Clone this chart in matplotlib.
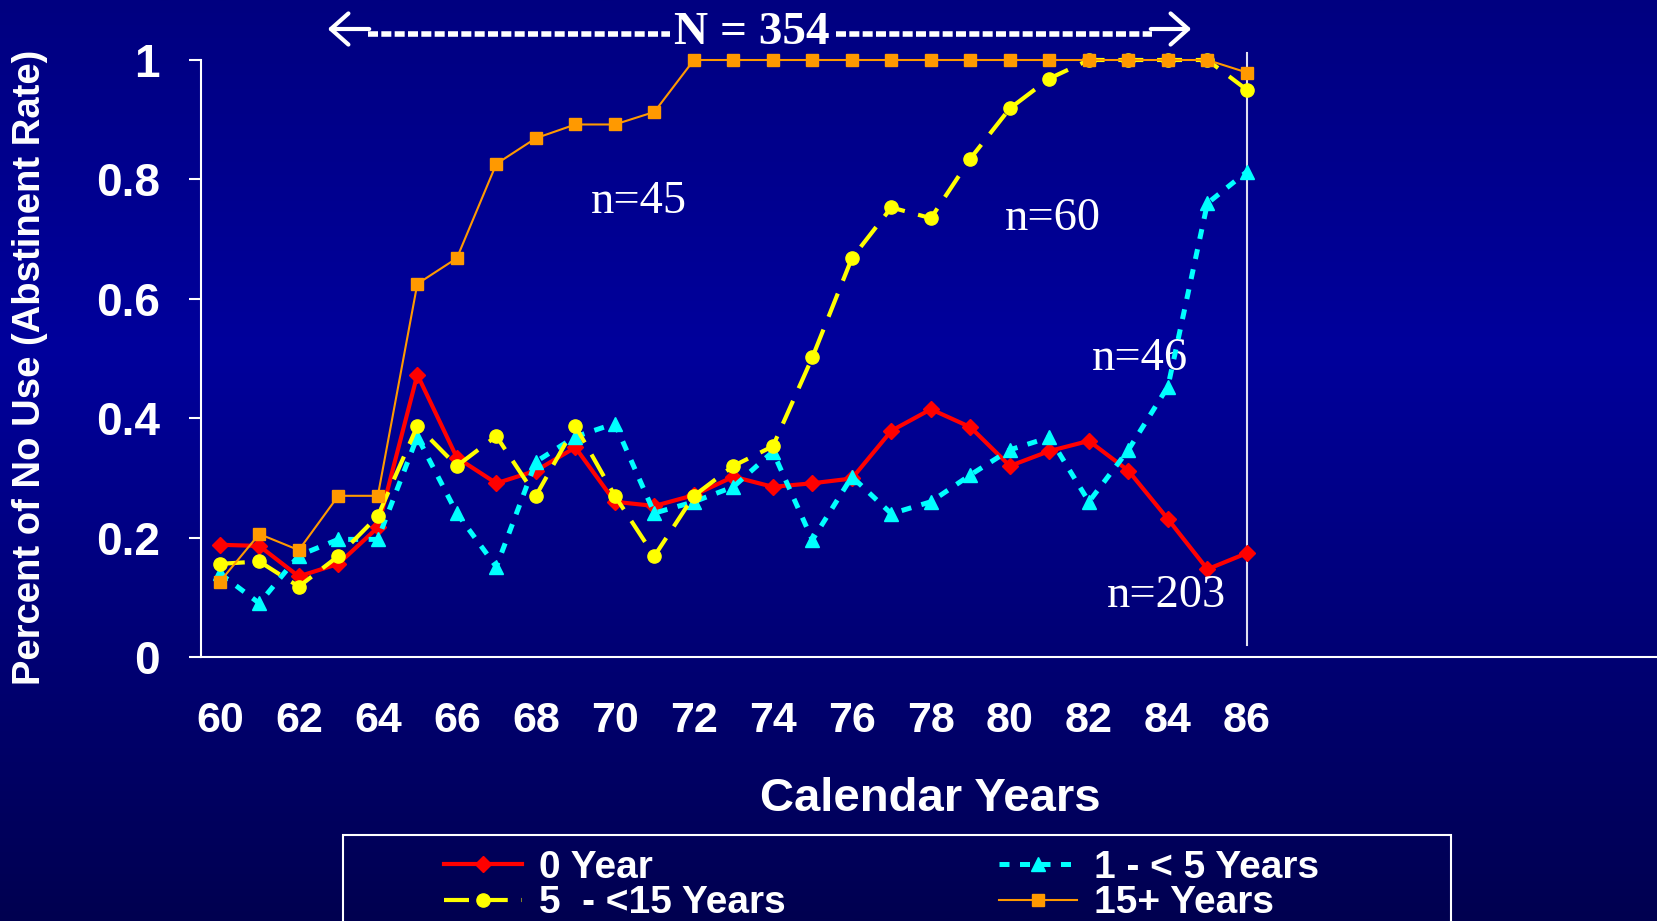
import numpy as np
import matplotlib
matplotlib.use("Agg")
import matplotlib.pyplot as plt
from matplotlib.colors import LinearSegmentedColormap
from matplotlib.lines import Line2D
from matplotlib.patches import FancyArrowPatch, Rectangle

# data
years = list(range(60, 87))
zero_year = [0.188, 0.186, 0.135, 0.156, 0.217, 0.473, 0.334, 0.291, 0.312, 0.351,
             0.260, 0.253, 0.271, 0.302, 0.285, 0.291, 0.299, 0.379, 0.415, 0.385,
             0.320, 0.345, 0.362, 0.312, 0.231, 0.147, 0.174]
one_to_five = [0.140, 0.090, 0.170, 0.197, 0.197, 0.369, 0.241, 0.151, 0.327, 0.369,
               0.391, 0.241, 0.260, 0.285, 0.344, 0.196, 0.302, 0.240, 0.260, 0.305,
               0.347, 0.368, 0.260, 0.347, 0.453, 0.760, 0.813]
five_to_fifteen = [0.156, 0.160, 0.118, 0.169, 0.236, 0.387, 0.320, 0.370, 0.270, 0.387,
                   0.270, 0.169, 0.270, 0.320, 0.353, 0.502, 0.668, 0.753, 0.735, 0.835,
                   0.919, 0.969, 1.0, 1.0, 1.0, 1.0, 0.950]
fifteen_plus = [0.126, 0.206, 0.179, 0.270, 0.270, 0.625, 0.668, 0.826, 0.869, 0.892,
                0.892, 0.913, 1.0, 1.0, 1.0, 1.0, 1.0, 1.0, 1.0, 1.0,
                1.0, 1.0, 1.0, 1.0, 1.0, 1.0, 0.979]
year_ticks = list(range(60, 87, 2))
y_ticks = [0, 0.2, 0.4, 0.6, 0.8, 1]
y_tick_labels = ["0", "0.2", "0.4", "0.6", "0.8", "1"]

# group sizes written on the chart: (label, x year, y)
group_notes = [("n=45", 70.62, 0.743), ("n=60", 81.08, 0.715),
               ("n=46", 83.28, 0.481), ("n=203", 83.97, 0.084)]

W, H = 1657, 921
fx = lambda px: px / W
fy = lambda py: 1 - py / H

fig = plt.figure(figsize=(W / 100, H / 100), dpi=100)

# navy gradient backdrop (darker at top and bottom)
bg = fig.add_axes([0, 0, 1, 1], zorder=-10)
grad = np.linspace(0, 1, 512).reshape(-1, 1)
cmap = LinearSegmentedColormap.from_list(
    "navy", [(0, "#000080"), (0.38, "#00009C"), (1, "#000050")])
bg.imshow(grad, aspect="auto", cmap=cmap, extent=[0, 1, 0, 1])
bg.axis("off")

ax = fig.add_axes([fx(201), fy(657), 1 - fx(201), 597 / H])
ax.patch.set_alpha(0)

l_red, = ax.plot(years, zero_year, color="#FF0000", lw=3, marker="D", ms=8.5,
                 mec="#FF0000", clip_on=False, zorder=3)
l_cyan, = ax.plot(years, one_to_five, color="#00FFFF", lw=3.6, dashes=(2, 2.1),
                  marker="^", ms=9.5, mec="#00FFFF", clip_on=False, zorder=4)
l_yel, = ax.plot(years, five_to_fifteen, color="#FFFF00", lw=3, dashes=(6, 3.3),
                 marker="o", ms=9.5, mec="#FFFF00", clip_on=False, zorder=5)
l_org, = ax.plot(years, fifteen_plus, color="#FF9900", lw=1.5, marker="s", ms=8.5,
                 mec="#FF9900", clip_on=False, zorder=6)

ax.plot([86, 86], [0.02, 1.011], color="#E0E0F0", lw=1.5, clip_on=False, zorder=2)

for txt, xx, yy in group_notes:
    ax.text(xx, yy, txt, ha="center", va="baseline", color="white",
            family="Liberation Serif", fontsize=33.5)

ax.set_xlim(59.524, 96.38)
ax.set_ylim(0, 1)
ax.set_xticks(year_ticks)
ax.set_xticklabels([str(y) for y in year_ticks])
ax.set_yticks(y_ticks)
ax.set_yticklabels(y_tick_labels)
for s in ["top", "right"]:
    ax.spines[s].set_visible(False)
for s in ["left", "bottom"]:
    ax.spines[s].set_color("white")
    ax.spines[s].set_linewidth(1.5)
ax.tick_params(axis="y", direction="out", length=8.6, width=1.5, color="white",
               pad=21, labelcolor="white", labelsize=33)
ax.tick_params(axis="x", length=0, pad=32, labelcolor="white", labelsize=31)
for lab in ax.get_xticklabels() + ax.get_yticklabels():
    lab.set_family("Liberation Sans")
    lab.set_fontweight("bold")

fig.text(fx(30), fy(367), "Percent of No Use (Abstinent Rate)", rotation=90,
         ha="center", va="center", color="white", family="Liberation Sans",
         fontweight="bold", fontsize=27.5)
fig.text(fx(930), fy(799), "Calendar Years", ha="center", va="center",
         color="white", family="Liberation Sans", fontweight="bold", fontsize=34)

# N = 354 banner with arrows
fig.text(fx(752), fy(44), "N = 354", ha="center", va="baseline", color="white",
         family="Liberation Serif", fontweight="bold", fontsize=34)
for x0, x1 in [(368, 670), (836, 1152)]:
    fig.add_artist(Line2D([fx(x0), fx(x1)], [fy(34), fy(34)], color="white", lw=4,
                          dashes=(1.8, 0.6), transform=fig.transFigure))
for tail, tip in [(372, 325), (1148, 1194)]:
    fig.add_artist(FancyArrowPatch((fx(tail), fy(29)), (fx(tip), fy(29)),
                                   transform=fig.transFigure, color="white", lw=3,
                                   arrowstyle="->,head_length=0.45,head_width=0.4",
                                   mutation_scale=28))

# legend frame runs off the bottom of the slide
fig.add_artist(Rectangle((fx(343), fy(960)), fx(1451) - fx(343), (960 - 835) / H,
                         transform=fig.transFigure, facecolor="none",
                         edgecolor="white", lw=1.5))
prop = {"family": "Liberation Sans", "weight": "bold", "size": 28}
leg_kw = dict(loc="upper left", frameon=False, prop=prop, labelcolor="white",
              handlelength=2.0, handletextpad=0.45, labelspacing=-0.02,
              borderpad=0, borderaxespad=0, numpoints=1)
fig.legend([l_red, l_yel], ["0 Year", "5  - <15 Years"],
           bbox_to_anchor=(fx(444), fy(850)), **leg_kw)
fig.legend([l_cyan, l_org], ["1 - < 5 Years", "15+ Years"],
           bbox_to_anchor=(fx(999), fy(850)), **leg_kw)

fig.savefig("out.png", dpi=100)
